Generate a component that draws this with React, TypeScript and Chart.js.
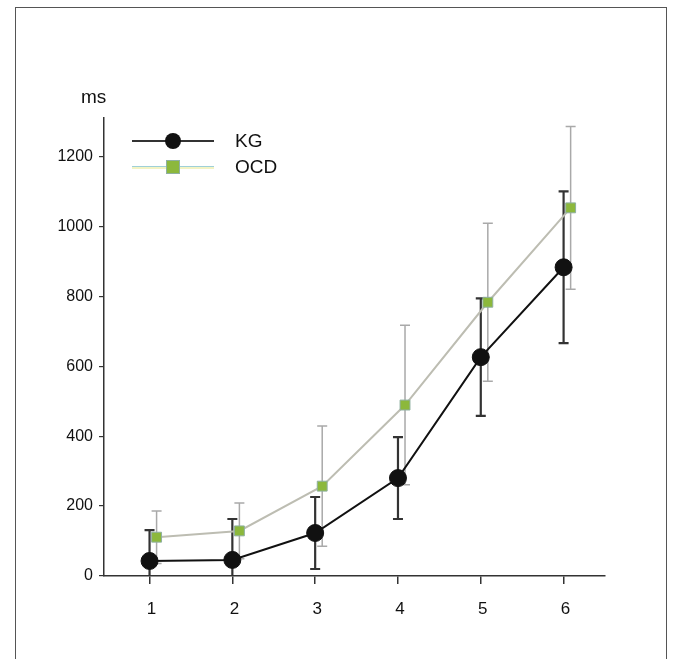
import React, { useEffect, useRef } from "react";
import { Chart, registerables } from "chart.js";

Chart.register(...registerables);

const categories = [1, 2, 3, 4, 5, 6];
const kgMeans = [43, 46, 123, 280, 626, 883];
const kgSD = [88, 117, 103, 117, 168, 217];
const ocdMeans = [111, 129, 257, 489, 783, 1053];
const ocdSD = [75, 80, 172, 228, 226, 233];
const yTicks = [0, 200, 400, 600, 800, 1000, 1200];
const seriesLabels = ["KG", "OCD"];

const OCD_OFFSET = 0.085;
const FONT = "'Liberation Sans', Arial, sans-serif";

const KG_COLOR = "#111111";
const OCD_LINE = "#bdbdb2";
const OCD_FILL = "#8cb83c";
const OCD_BORDER = "#8fb0a0";

const errorBarPlugin = {
  id: "errorBars",
  beforeDatasetsDraw(chart: any) {
    const { ctx, chartArea, scales } = chart;
    const xs = scales.x;
    const ys = scales.y;
    ctx.save();
    ctx.beginPath();
    ctx.rect(chartArea.left, chartArea.top, chartArea.right - chartArea.left, chartArea.bottom - chartArea.top);
    ctx.clip();
    const groups = [
      { means: ocdMeans, sd: ocdSD, off: OCD_OFFSET, color: "#a9a9a9", width: 1.5, cap: 5 },
      { means: kgMeans, sd: kgSD, off: 0, color: "#333333", width: 2.2, cap: 5 },
    ];
    groups.forEach((g) => {
      ctx.strokeStyle = g.color;
      ctx.lineWidth = g.width;
      categories.forEach((c, i) => {
        const px = xs.getPixelForValue(c + g.off);
        const yTop = ys.getPixelForValue(g.means[i] + g.sd[i]);
        const yBot = ys.getPixelForValue(g.means[i] - g.sd[i]);
        ctx.beginPath();
        ctx.moveTo(px, yTop);
        ctx.lineTo(px, yBot);
        ctx.moveTo(px - g.cap, yTop);
        ctx.lineTo(px + g.cap, yTop);
        ctx.moveTo(px - g.cap, yBot);
        ctx.lineTo(px + g.cap, yBot);
        ctx.stroke();
      });
    });
    ctx.restore();
  },
};

const annotationsPlugin = {
  id: "msAndLegend",
  afterDraw(chart: any) {
    const { ctx, chartArea } = chart;
    ctx.save();
    ctx.fillStyle = "#111111";
    ctx.font = `19px ${FONT}`;
    ctx.textAlign = "left";
    ctx.textBaseline = "alphabetic";
    ctx.fillText("ms", chartArea.left - 23, chartArea.top - 15);

    const lx0 = chartArea.left + 28;
    const lx1 = chartArea.left + 110;
    const mx = chartArea.left + 69;
    const tx = chartArea.left + 131;
    const y1 = chartArea.top + 23;
    const y2 = chartArea.top + 49;

    ctx.lineWidth = 2;
    ctx.strokeStyle = "#333333";
    ctx.beginPath();
    ctx.moveTo(lx0, y1);
    ctx.lineTo(lx1, y1);
    ctx.stroke();
    ctx.fillStyle = KG_COLOR;
    ctx.beginPath();
    ctx.arc(mx, y1, 8, 0, Math.PI * 2);
    ctx.fill();

    ctx.strokeStyle = "#9fd0d8";
    ctx.lineWidth = 1;
    ctx.beginPath();
    ctx.moveTo(lx0, y2 - 0.5);
    ctx.lineTo(lx1, y2 - 0.5);
    ctx.stroke();
    ctx.strokeStyle = "#e6e88a";
    ctx.beginPath();
    ctx.moveTo(lx0, y2 + 1);
    ctx.lineTo(lx1, y2 + 1);
    ctx.stroke();
    ctx.fillStyle = OCD_FILL;
    ctx.fillRect(mx - 6.5, y2 - 6.5, 13, 13);
    ctx.strokeStyle = OCD_BORDER;
    ctx.lineWidth = 1;
    ctx.strokeRect(mx - 6.5, y2 - 6.5, 13, 13);

    ctx.fillStyle = "#111111";
    ctx.font = `19px ${FONT}`;
    ctx.textBaseline = "middle";
    ctx.fillText(seriesLabels[0], tx, y1 + 1);
    ctx.fillText(seriesLabels[1], tx, y2 + 1);
    ctx.restore();
  },
};

export default function App() {
  const canvasRef = useRef<HTMLCanvasElement | null>(null);

  useEffect(() => {
    if (!canvasRef.current) return;
    const chart = new Chart(canvasRef.current, {
      type: "scatter",
      data: {
        datasets: [
          {
            label: seriesLabels[1],
            data: categories.map((c, i) => ({ x: c + OCD_OFFSET, y: ocdMeans[i] })),
            showLine: true,
            borderColor: OCD_LINE,
            borderWidth: 2,
            pointStyle: "rect",
            pointRadius: 7,
            pointBackgroundColor: OCD_FILL,
            pointBorderColor: OCD_BORDER,
            pointBorderWidth: 1,
            tension: 0,
          },
          {
            label: seriesLabels[0],
            data: categories.map((c, i) => ({ x: c, y: kgMeans[i] })),
            showLine: true,
            borderColor: KG_COLOR,
            borderWidth: 2,
            pointStyle: "circle",
            pointRadius: 8.5,
            pointBackgroundColor: KG_COLOR,
            pointBorderColor: KG_COLOR,
            pointBorderWidth: 1,
            tension: 0,
          },
        ],
      },
      options: {
        animation: false,
        responsive: false,
        layout: { padding: { left: 0, right: 73, top: 118, bottom: 0 } },
        plugins: {
          legend: { display: false },
          tooltip: { enabled: false },
          title: { display: false },
        },
        scales: {
          x: {
            type: "linear",
            min: 0.45,
            max: 6.5,
            afterBuildTicks: (axis: any) => {
              axis.ticks = categories.map((v) => ({ value: v }));
            },
            afterFit: (axis: any) => {
              axis.height = 83;
            },
            grid: {
              display: true,
              drawOnChartArea: false,
              drawTicks: true,
              tickLength: 8,
              color: "#333333",
              lineWidth: 1.5,
            },
            border: { display: true, color: "#333333", width: 1.5 },
            ticks: {
              padding: 15,
              labelOffset: 2,
              color: "#111111",
              font: { family: FONT, size: 17 },
              callback: (v: any) => String(v),
            },
          },
          y: {
            type: "linear",
            min: 0,
            max: 1310,
            afterBuildTicks: (axis: any) => {
              axis.ticks = yTicks.map((v) => ({ value: v }));
            },
            afterFit: (axis: any) => {
              axis.width = 104;
            },
            grid: {
              display: true,
              drawOnChartArea: false,
              drawTicks: true,
              tickLength: 5,
              color: "#333333",
              lineWidth: 1.2,
            },
            border: { display: true, color: "#333333", width: 1.5 },
            ticks: {
              padding: 6,
              color: "#111111",
              font: { family: FONT, size: 16 },
              callback: (v: any) => String(v),
            },
          },
        },
      },
      plugins: [errorBarPlugin, annotationsPlugin],
    });
    return () => chart.destroy();
  }, []);

  return (
    <div
      style={{
        position: "absolute",
        left: 0,
        top: 0,
        width: 678,
        height: 659,
        background: "#ffffff",
        overflow: "hidden",
      }}
    >
      <div
        style={{
          position: "absolute",
          left: 15,
          top: 7,
          width: 652,
          height: 670,
          border: "1.5px solid #555555",
          boxSizing: "border-box",
        }}
      />
      <canvas
        ref={canvasRef}
        width={678}
        height={659}
        style={{ position: "absolute", left: 0, top: 0, width: 678, height: 659 }}
      />
    </div>
  );
}
